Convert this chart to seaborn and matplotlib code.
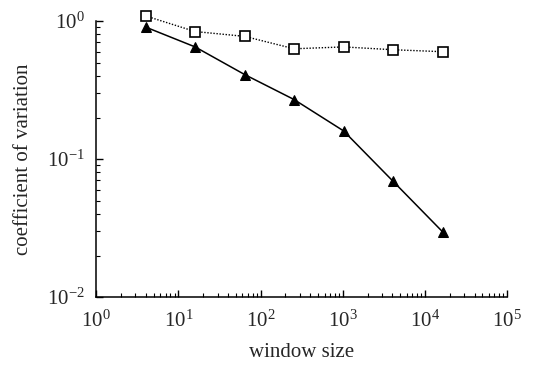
import numpy as np
import pandas as pd
import matplotlib
matplotlib.use("Agg")
import matplotlib.pyplot as plt
import seaborn as sns

window_size = [4, 16, 64, 256, 1024, 4096, 16384]
cv_triangles = [0.905, 0.65, 0.41, 0.27, 0.16, 0.069, 0.0297]
cv_squares = [1.09, 0.84, 0.775, 0.63, 0.65, 0.62, 0.60]

sns.set_style("ticks")
plt.rcParams['font.family'] = ['Liberation Serif', 'DejaVu Serif']
plt.rcParams['mathtext.fontset'] = 'stix'

df = pd.DataFrame({"window": window_size, "tri": cv_triangles, "sq": cv_squares})

fig = plt.figure(figsize=(5.46, 3.70), dpi=100)
ax = fig.add_axes([0.176, 0.197, 0.753, 0.746])

sns.lineplot(data=df, x="window", y="sq", ax=ax, color="black", linestyle=(0, (1, 1.2)),
             linewidth=1.0, marker="s", markersize=6.5, markerfacecolor="white",
             markeredgecolor="black", markeredgewidth=1.2, clip_on=False, zorder=3)
sns.lineplot(data=df, x="window", y="tri", ax=ax, color="black", linestyle="-",
             linewidth=1.1, marker="^", markersize=6.5, markerfacecolor="black",
             markeredgecolor="black", clip_on=False, zorder=4)

ax.set_xscale("log")
ax.set_yscale("log")
ax.set_xlim(1, 1e5)
ax.set_ylim(1e-2, 1.0)
ax.set_xticks([1, 10, 100, 1e3, 1e4, 1e5])
ax.set_yticks([1e-2, 1e-1, 1])
ax.xaxis.set_minor_locator(matplotlib.ticker.LogLocator(base=10, subs=np.arange(2, 10)))
ax.yaxis.set_minor_locator(matplotlib.ticker.LogLocator(base=10, subs=np.arange(2, 10)))
ax.xaxis.set_minor_formatter(matplotlib.ticker.NullFormatter())
ax.yaxis.set_minor_formatter(matplotlib.ticker.NullFormatter())

ax.tick_params(which="both", direction="in", labelsize=15, color="black")
ax.tick_params(which="major", length=5, width=1)
ax.tick_params(which="minor", length=3, width=0.8)
ax.tick_params(axis="x", pad=10)
ax.tick_params(axis="y", pad=8)

for s in ["top", "right"]:
    ax.spines[s].set_visible(False)
for s in ["left", "bottom"]:
    ax.spines[s].set_linewidth(1.1)
    ax.spines[s].set_color("black")

ax.set_xlabel("window size", fontsize=15, labelpad=8)
ax.set_ylabel("coefficient of variation", fontsize=15, labelpad=10)

fig.savefig("out.png", dpi=100, facecolor="white")
